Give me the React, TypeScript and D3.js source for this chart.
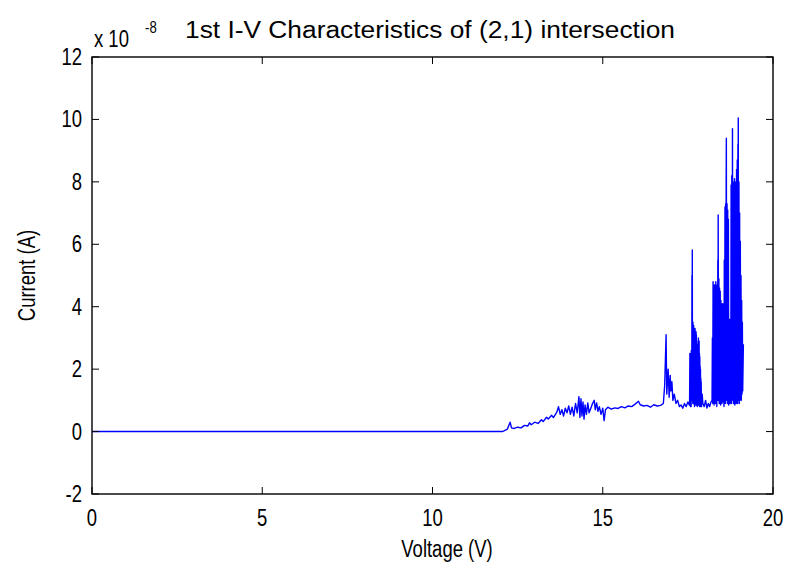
import React from 'react';
import * as d3 from 'd3';

const xTicks = [0, 5, 10, 15, 20];
const yTicks = [-2, 0, 2, 4, 6, 8, 10, 12];
const titleText = '1st I-V Characteristics of (2,1) intersection';
const xLabel = 'Voltage (V)';
const yLabel = 'Current (A)';

// [voltage (V), current (x 1e-8 A)]
const flatSegment: [number, number][] = [[0, 0], [12.05, 0]];

const riseSegment: [number, number][] = [
  [12.1, 0.02], [12.2, 0.08], [12.28, 0.3], [12.32, 0.12], [12.4, 0.1], [12.5, 0.14], [12.6, 0.12],
  [12.7, 0.2], [12.8, 0.18], [12.85, 0.28], [12.9, 0.22], [13.0, 0.3], [13.1, 0.26], [13.2, 0.38],
  [13.25, 0.32], [13.35, 0.46], [13.4, 0.4], [13.5, 0.52], [13.55, 0.45], [13.65, 0.62], [13.7, 0.8],
  [13.75, 0.55], [13.8, 0.7], [13.85, 0.5], [13.9, 0.75], [13.95, 0.6], [14.0, 0.82], [14.05, 0.55],
  [14.1, 0.78], [14.15, 0.5], [14.2, 0.9], [14.25, 0.6], [14.3, 1.12], [14.33, 0.45], [14.36, 1.05],
  [14.39, 0.5], [14.42, 0.95], [14.45, 0.4], [14.48, 0.85], [14.52, 0.55], [14.56, 0.92], [14.6, 0.6],
  [14.65, 0.75], [14.7, 0.9], [14.75, 1.0], [14.78, 0.7], [14.82, 0.92], [14.86, 0.65], [14.9, 0.8],
  [14.95, 0.55], [15.0, 0.75], [15.04, 0.35], [15.08, 0.7], [15.15, 0.78], [15.25, 0.72], [15.35, 0.76],
  [15.45, 0.74], [15.55, 0.8], [15.65, 0.76], [15.75, 0.82], [15.85, 0.8], [15.95, 0.88], [16.05, 0.97],
  [16.1, 0.86], [16.2, 0.82], [16.3, 0.84], [16.4, 0.78], [16.5, 0.86], [16.6, 0.82], [16.7, 0.84],
  [16.78, 0.9],
];

const smallSpikeSegment: [number, number][] = [
  [16.82, 1.5], [16.86, 3.1], [16.88, 1.2], [16.92, 2.0], [16.95, 1.1], [16.98, 1.8], [17.0, 1.3],
  [17.03, 1.6], [17.06, 1.0], [17.1, 1.2], [17.15, 0.9], [17.2, 1.0], [17.25, 0.8], [17.3, 0.85],
  [17.35, 0.75], [17.4, 0.9], [17.45, 0.8], [17.5, 0.95], [17.54, 0.85],
];

const firstBurst: [number, number][] = [
  [17.55, 0.9], [17.56, 2.5], [17.565, 0.9], [17.57, 2.3], [17.575, 0.8], [17.58, 2.4], [17.585, 1.0],
  [17.59, 2.2], [17.595, 0.8], [17.6, 2.6], [17.605, 1.0], [17.61, 2.4], [17.615, 1.0],
  [17.62, 5.0], [17.625, 1.5], [17.63, 5.82], [17.635, 1.2], [17.64, 3.3], [17.645, 0.9], [17.65, 3.5],
  [17.655, 0.9], [17.66, 3.3], [17.665, 1.0], [17.67, 3.4], [17.675, 0.9], [17.68, 3.2], [17.685, 1.0],
  [17.69, 3.2], [17.695, 0.8], [17.7, 3.1], [17.705, 0.9], [17.71, 3.3], [17.715, 0.9], [17.72, 3.1],
  [17.725, 0.9], [17.73, 3.0], [17.735, 0.85], [17.74, 3.2], [17.745, 0.9], [17.75, 3.1], [17.755, 0.9],
  [17.76, 2.9], [17.765, 0.85], [17.77, 2.8], [17.775, 0.8], [17.78, 2.7], [17.785, 0.9], [17.79, 2.6],
  [17.795, 1.0], [17.8, 2.8], [17.805, 0.85], [17.81, 3.0], [17.815, 0.9], [17.82, 2.7], [17.825, 0.85],
  [17.83, 2.9], [17.835, 0.9], [17.84, 2.5], [17.845, 0.8], [17.85, 2.4], [17.855, 0.9], [17.86, 2.1],
  [17.865, 0.8], [17.87, 2.0], [17.875, 0.9], [17.88, 1.7], [17.885, 0.9], [17.89, 1.6], [17.9, 0.8],
  [17.92, 1.2], [17.94, 0.9],
];

const quietSegment: [number, number][] = [
  [17.98, 0.8], [18.02, 1.0], [18.06, 0.75], [18.1, 0.9], [18.14, 0.8], [18.18, 0.95],
];

const secondBurst: [number, number][] = [
  [18.21, 1.0], [18.22, 3.0], [18.23, 0.9], [18.24, 4.8], [18.25, 1.0], [18.26, 4.5], [18.27, 0.85],
  [18.28, 4.7], [18.29, 1.1], [18.3, 4.4], [18.31, 0.9], [18.32, 4.8], [18.33, 1.0], [18.34, 4.6],
  [18.35, 0.8], [18.36, 4.7], [18.37, 1.0], [18.38, 5.5], [18.385, 1.2], [18.39, 6.94], [18.4, 1.0],
  [18.41, 4.9], [18.42, 0.9], [18.43, 4.6], [18.44, 1.0], [18.45, 4.5], [18.46, 0.85], [18.47, 4.2],
  [18.48, 1.0], [18.49, 4.0], [18.5, 0.9], [18.51, 4.1], [18.52, 1.1], [18.53, 3.9], [18.54, 0.95],
  [18.55, 4.1], [18.56, 0.8], [18.57, 5.5], [18.58, 1.0], [18.59, 7.2], [18.6, 0.9], [18.61, 7.3],
  [18.62, 1.0], [18.625, 8.0], [18.63, 9.4], [18.64, 1.0], [18.65, 7.3], [18.66, 0.9], [18.67, 7.1],
  [18.68, 1.0], [18.69, 6.8], [18.7, 0.85], [18.71, 3.6], [18.72, 1.0], [18.73, 3.5], [18.74, 0.9],
  [18.75, 3.6], [18.76, 1.0], [18.77, 7.9], [18.78, 0.9], [18.79, 8.2], [18.8, 1.0], [18.81, 9.7],
  [18.82, 1.1], [18.83, 7.9], [18.84, 0.9], [18.85, 8.0], [18.86, 1.0], [18.87, 8.1], [18.88, 0.85],
  [18.89, 7.8], [18.9, 1.0], [18.91, 8.0], [18.92, 0.9], [18.93, 8.4], [18.94, 1.0], [18.95, 8.7],
  [18.96, 0.9], [18.97, 9.2], [18.975, 1.2], [18.98, 10.05], [18.99, 1.0], [19.0, 8.0], [19.01, 0.9],
  [19.02, 7.0], [19.03, 1.0], [19.04, 6.1], [19.05, 1.1], [19.06, 5.0], [19.07, 1.0], [19.08, 4.2],
  [19.09, 1.2], [19.1, 3.5], [19.11, 1.3], [19.13, 2.8],
];

const W = 788;
const H = 570;
const M = { left: 92, right: 773, top: 57, bottom: 494 };
const FONT = '"Liberation Sans", Arial, sans-serif';

function T(props: { x: number; y: number; size: number; sx?: number; sy?: number; anchor?: string; rotate?: number; children: React.ReactNode }) {
  const { x, y, size, sx = 0.88, sy = 1.1, anchor = 'start', rotate = 0, children } = props;
  return (
    <text transform={`translate(${x},${y}) rotate(${rotate}) scale(${sx},${sy})`} fontSize={size}
      textAnchor={anchor} fill="#000">{children}</text>
  );
}

export default function App() {
  const data = [
    ...flatSegment, ...riseSegment, ...smallSpikeSegment, ...firstBurst, ...quietSegment, ...secondBurst,
  ];
  const x = d3.scaleLinear().domain([0, 20]).range([M.left, M.right]);
  const y = d3.scaleLinear().domain([-2, 12]).range([M.bottom, M.top]);
  const line = d3.line<[number, number]>().x(d => x(d[0])).y(d => y(d[1]));
  const tick = 7;

  return (
    <svg width={W} height={H} style={{ position: 'absolute', left: 0, top: 0, background: '#fff' }}
      fontFamily={FONT}>
      <rect x={0} y={0} width={W} height={H} fill="#fff" />
      <path d={line(data) || ''} fill="none" stroke="#0000ff" strokeWidth={1.4} strokeLinejoin="round" />
      <rect x={M.left} y={M.top} width={M.right - M.left} height={M.bottom - M.top}
        fill="none" stroke="#000" strokeWidth={1.4} />
      {xTicks.map(t => (
        <g key={'x' + t}>
          <line x1={x(t)} x2={x(t)} y1={M.bottom} y2={M.bottom - tick} stroke="#000" />
          <line x1={x(t)} x2={x(t)} y1={M.top} y2={M.top + tick} stroke="#000" />
          <T x={x(t)} y={526} size={21} anchor="middle">{t}</T>
        </g>
      ))}
      {yTicks.map(t => (
        <g key={'y' + t}>
          <line x1={M.left} x2={M.left + tick} y1={y(t)} y2={y(t)} stroke="#000" />
          <line x1={M.right} x2={M.right - tick} y1={y(t)} y2={y(t)} stroke="#000" />
          <T x={82} y={y(t) + 8} size={21} anchor="end">{t}</T>
        </g>
      ))}
      <text x={185} y={38} fontSize={21} textLength={490} lengthAdjust="spacingAndGlyphs" fill="#000"
        transform="translate(0,-3.8) scale(1,1.1)">{titleText}</text>
      <T x={94} y={47} size={21}>x 10</T>
      <T x={145} y={33} size={15}>-8</T>
      <T x={447} y={557} size={21} anchor="middle">{xLabel}</T>
      <T x={35} y={(M.top + M.bottom) / 2} size={21} anchor="middle" rotate={-90}>{yLabel}</T>
    </svg>
  );
}
